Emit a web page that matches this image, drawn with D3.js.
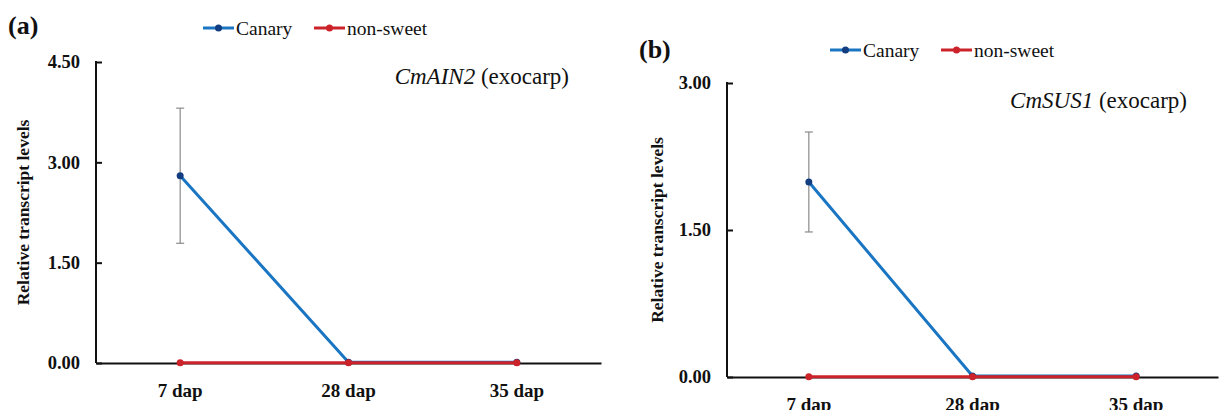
<!DOCTYPE html>
<html>
<head>
<meta charset="utf-8">
<script src="https://cdn.jsdelivr.net/npm/d3@7"></script>
<style>
  html, body { margin: 0; padding: 0; background: #fff; }
  svg { display: block; }
</style>
</head>
<body>
<svg id="chart" width="1223" height="410"></svg>
<script>
// ---- data ----
const categories = ["7 dap", "28 dap", "35 dap"];
const seriesNames = ["Canary", "non-sweet"];
const aCanary = [2.80, 0.01, 0.01];
const aCanaryErr = [1.01, 0, 0];
const aNonSweet = [0.005, 0.005, 0.005];
const aTicks = [0, 1.5, 3.0, 4.5];
const bCanary = [1.99, 0.01, 0.01];
const bCanaryErr = [0.51, 0, 0];
const bNonSweet = [0.003, 0.003, 0.003];
const bTicks = [0, 1.5, 3.0];
const yTitle = "Relative transcript levels";

// ---- styling ----
const FONT = "Liberation Serif";
const colors = { "Canary": "#1a75c2", "non-sweet": "#cc2229" };
const markerColors = { "Canary": "#123d80", "non-sweet": "#cc2229" };

const svg = d3.select("#chart");

function panel(cfg) {
  const g = svg.append("g").attr("font-family", FONT);
  const x = d3.scaleBand().domain(categories).range([cfg.x0, cfg.x1]);
  const y = d3.scaleLinear().domain([0, cfg.ticks[cfg.ticks.length - 1]]).range([cfg.y0, cfg.y1]);
  const cx = d => x(d) + x.bandwidth() / 2;

  // y axis
  const yAxis = d3.axisLeft(y).tickValues(cfg.ticks).tickFormat(d3.format(".2f")).tickSize(-6).tickPadding(16);
  const ya = g.append("g").attr("transform", `translate(${cfg.x0},0)`).call(yAxis);
  ya.attr("font-family", FONT);
  ya.select(".domain").remove();
  ya.selectAll(".tick line").attr("stroke", "#111").attr("stroke-width", 2);
  ya.selectAll(".tick text").attr("font-size", 18.5).attr("font-weight", "bold")
    .attr("font-family", FONT).attr("fill", "#111");
  g.append("line").attr("x1", cfg.x0).attr("x2", cfg.x0).attr("y1", y(cfg.ticks[cfg.ticks.length-1]) - 1).attr("y2", cfg.y0)
    .attr("stroke", "#111").attr("stroke-width", 2);

  // x axis
  const xAxis = d3.axisBottom(x).tickSize(0).tickPadding(21);
  const xa = g.append("g").attr("transform", `translate(0,${cfg.y0})`).call(xAxis);
  xa.attr("font-family", FONT);
  xa.select(".domain").attr("stroke", "#111").attr("stroke-width", 2.2);
  xa.selectAll(".tick text").attr("font-size", 19).attr("font-weight", "bold")
    .attr("font-family", FONT).attr("fill", "#111");

  // y title
  g.append("text").attr("transform", `translate(${cfg.titleX},${(cfg.y0 + cfg.y1) / 2}) rotate(-90)`)
    .attr("text-anchor", "middle").attr("dominant-baseline", "middle")
    .attr("font-family", FONT).attr("fill", "#111")
    .attr("font-size", 17.5).attr("font-weight", "bold").text(yTitle);

  // error bars
  cfg.canary.forEach((v, i) => {
    const e = cfg.err[i];
    if (!e) return;
    const xx = cx(categories[i]);
    g.append("line").attr("x1", xx).attr("x2", xx).attr("y1", y(v + e)).attr("y2", y(v - e))
      .attr("stroke", "#8a8a8a").attr("stroke-width", 1.2);
    [v + e, v - e].forEach(t => g.append("line").attr("x1", xx - 4).attr("x2", xx + 4)
      .attr("y1", y(t)).attr("y2", y(t)).attr("stroke", "#8a8a8a").attr("stroke-width", 1.2));
  });

  const line = d3.line().x((d, i) => cx(categories[i])).y(d => y(d));
  const series = [["Canary", cfg.canary], ["non-sweet", cfg.nonsweet]];
  series.forEach(([name, vals]) => {
    g.append("path").datum(vals).attr("d", line).attr("fill", "none")
      .attr("stroke", colors[name]).attr("stroke-width", 3);
    g.selectAll(null).data(vals).enter().append("circle")
      .attr("cx", (d, i) => cx(categories[i])).attr("cy", d => y(d)).attr("r", 3.5)
      .attr("fill", markerColors[name]);
  });

  // chart title (gene)
  const t = g.append("text").attr("x", cfg.geneX).attr("y", cfg.geneY).attr("text-anchor", "end")
    .attr("font-family", FONT).attr("fill", "#111").attr("font-size", 23);
  t.append("tspan").attr("font-family", FONT).attr("font-style", "italic").text(cfg.gene);
  t.append("tspan").attr("font-family", FONT).text(" (exocarp)");

  // panel letter
  g.append("text").attr("x", cfg.letterX).attr("y", cfg.letterY).attr("font-size", 26)
    .attr("font-family", FONT).attr("fill", "#111")
    .attr("font-weight", "bold").text(cfg.letter);

  // legend
  let lx = cfg.legX;
  seriesNames.forEach((name, k) => {
    const lg = g.append("g").attr("transform", `translate(${lx},${cfg.legY})`);
    lg.append("line").attr("x1", 0).attr("x2", 31).attr("y1", 0).attr("y2", 0)
      .attr("stroke", colors[name]).attr("stroke-width", 3);
    lg.append("circle").attr("cx", 15.5).attr("cy", 0).attr("r", 3.5).attr("fill", markerColors[name]);
    lg.append("text").attr("x", 33).attr("y", 6.5)
      .attr("font-family", FONT).attr("fill", "#111")
      .attr("font-size", 19.5).text(name);
    lx += (k === 0 ? 111 : 0);
  });
}

panel({ x0: 96, x1: 601, y0: 363, y1: 62, ticks: aTicks, canary: aCanary, err: aCanaryErr, nonsweet: aNonSweet,
  titleX: 25, gene: "CmAIN2", geneX: 569, geneY: 84, letter: "(a)", letterX: 8, letterY: 34, legX: 203, legY: 28 });
panel({ x0: 727, x1: 1218, y0: 377, y1: 83, ticks: bTicks, canary: bCanary, err: bCanaryErr, nonsweet: bNonSweet,
  titleX: 659, gene: "CmSUS1", geneX: 1187, geneY: 108, letter: "(b)", letterX: 639, letterY: 58, legX: 830, legY: 50 });
</script>
</body>
</html>
